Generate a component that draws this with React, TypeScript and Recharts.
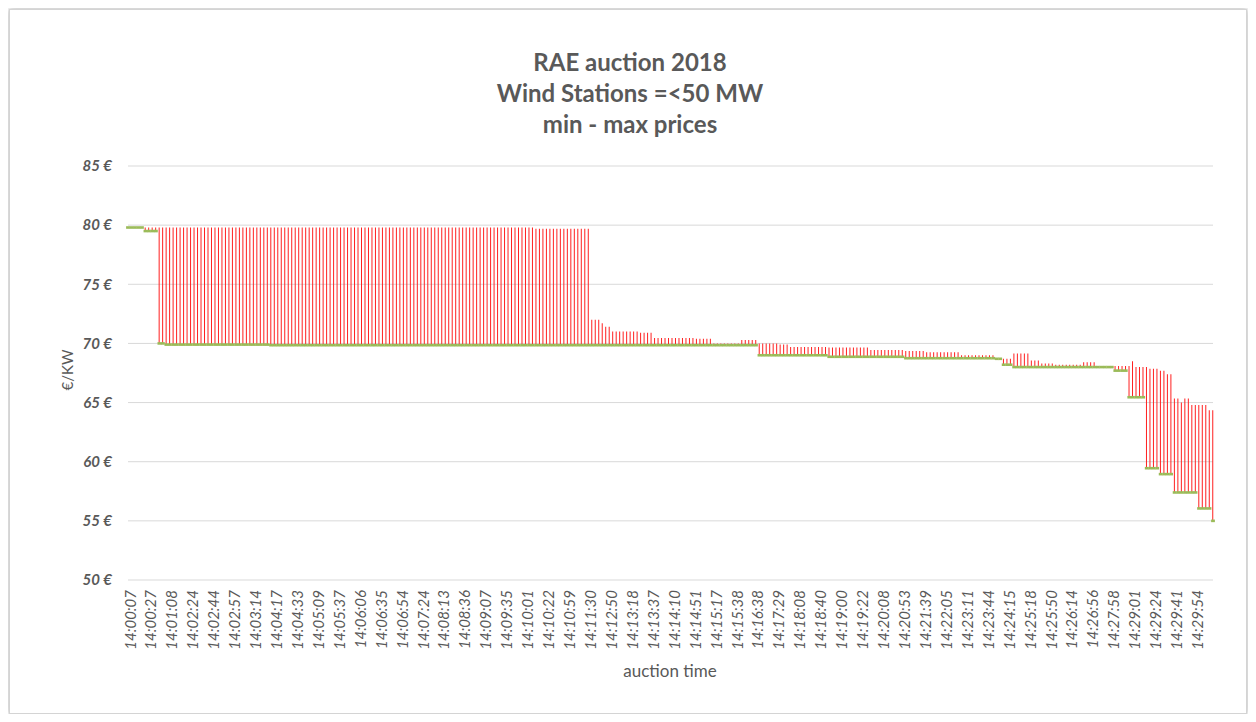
import { ComposedChart, Bar, Line, XAxis, YAxis, CartesianGrid } from 'recharts'

// every 6th bid carries a time label on the axis
const LABEL_STEP = 6

const timeLabels = [
  '14:00:07', '14:00:27', '14:01:08', '14:02:24', '14:02:44', '14:02:57', '14:03:14', '14:04:17',
  '14:04:33', '14:05:09', '14:05:37', '14:06:06', '14:06:35', '14:06:54', '14:07:24', '14:08:13',
  '14:08:36', '14:09:07', '14:09:35', '14:10:01', '14:10:22', '14:10:59', '14:11:30', '14:12:50',
  '14:13:18', '14:13:37', '14:14:10', '14:14:51', '14:15:17', '14:15:38', '14:16:38', '14:17:29',
  '14:18:08', '14:18:40', '14:19:00', '14:19:22', '14:20:08', '14:20:53', '14:21:39', '14:22:05',
  '14:23:11', '14:23:44', '14:24:15', '14:25:18', '14:25:50', '14:26:14', '14:26:56', '14:27:58',
  '14:29:01', '14:29:24', '14:29:41', '14:29:54',
]

const priceTicks = [50, 55, 60, 65, 70, 75, 80, 85]

// lowest bid per step (€/KW)
const minPrice = [
  79.8, 79.8, 79.8, 79.8, 79.8,
  79.5, 79.5, 79.5, 79.5,
  70.0, 70.0,
  69.9, 69.9, 69.9, 69.9, 69.9, 69.9, 69.9, 69.9, 69.9, 69.9,
  69.9, 69.9, 69.9, 69.9, 69.9, 69.9, 69.9, 69.9, 69.9, 69.9,
  69.9, 69.9, 69.9, 69.9, 69.9, 69.9, 69.9, 69.9, 69.9, 69.9,
  69.85, 69.85, 69.85, 69.85, 69.85, 69.85, 69.85, 69.85, 69.85, 69.85,
  69.85, 69.85, 69.85, 69.85, 69.85, 69.85, 69.85, 69.85, 69.85, 69.85,
  69.85, 69.85, 69.85, 69.85, 69.85, 69.85, 69.85, 69.85, 69.85, 69.85,
  69.85, 69.85, 69.85, 69.85, 69.85, 69.85, 69.85, 69.85, 69.85, 69.85,
  69.85, 69.85, 69.85, 69.85, 69.85, 69.85, 69.85, 69.85, 69.85, 69.85,
  69.85, 69.85, 69.85, 69.85, 69.85, 69.85, 69.85, 69.85, 69.85, 69.85,
  69.85, 69.85, 69.85, 69.85, 69.85, 69.85, 69.85, 69.85, 69.85, 69.85,
  69.85, 69.85, 69.85, 69.85, 69.85, 69.85, 69.85, 69.85, 69.85, 69.85,
  69.85, 69.85, 69.85, 69.85, 69.85, 69.85, 69.85, 69.85, 69.85, 69.85,
  69.85, 69.85, 69.85, 69.85, 69.85, 69.85, 69.85, 69.85, 69.85, 69.85,
  69.85, 69.85, 69.85, 69.85, 69.85, 69.85, 69.85, 69.85, 69.85, 69.85,
  69.85, 69.85, 69.85, 69.85, 69.85, 69.85, 69.85, 69.85, 69.85, 69.85,
  69.85, 69.85, 69.85, 69.85, 69.85, 69.85, 69.85, 69.85, 69.85, 69.85,
  69.85, 69.85, 69.85, 69.85, 69.85, 69.85, 69.85, 69.85, 69.85, 69.85,
  69.0, 69.0, 69.0, 69.0, 69.0, 69.0, 69.0, 69.0, 69.0, 69.0,
  69.0, 69.0, 69.0, 69.0, 69.0, 69.0, 69.0, 69.0, 69.0, 69.0,
  68.87, 68.87, 68.87, 68.87, 68.87, 68.87, 68.87, 68.87, 68.87, 68.87,
  68.87, 68.87, 68.87, 68.87, 68.87, 68.87, 68.87, 68.87, 68.87, 68.87,
  68.87, 68.87,
  68.75, 68.75, 68.75, 68.75, 68.75, 68.75, 68.75, 68.75, 68.75, 68.75,
  68.75, 68.75, 68.75, 68.75, 68.75, 68.75, 68.75, 68.75, 68.75, 68.75,
  68.75, 68.75, 68.75, 68.75, 68.75, 68.75,
  68.7, 68.7,
  68.2, 68.2, 68.2,
  68.0, 68.0, 68.0, 68.0, 68.0, 68.0, 68.0, 68.0, 68.0, 68.0,
  68.0, 68.0, 68.0, 68.0, 68.0, 68.0, 68.0, 68.0, 68.0, 68.0,
  68.0, 68.0, 68.0, 68.0, 68.0, 68.0, 68.0, 68.0, 68.0,
  67.7, 67.7, 67.7, 67.7,
  65.45, 65.45, 65.45, 65.45, 65.45,
  59.45, 59.45, 59.45, 59.45,
  58.95, 58.95, 58.95, 58.95,
  57.4, 57.4, 57.4, 57.4, 57.4, 57.4, 57.4,
  56.05, 56.05, 56.05, 56.05,
  55.0,
]

// highest bid per step (€/KW)
const maxPrice = [
  79.8, 79.8, 79.8, 79.8, 79.8, 79.8, 79.8, 79.8, 79.8, 79.8,
  79.8, 79.8, 79.8, 79.8, 79.8, 79.8, 79.8, 79.8, 79.8, 79.8,
  79.8, 79.8, 79.8, 79.8, 79.8, 79.8, 79.8, 79.8, 79.8, 79.8,
  79.8, 79.8, 79.8, 79.8, 79.8, 79.8, 79.8, 79.8, 79.8, 79.8,
  79.8, 79.8, 79.8, 79.8, 79.8, 79.8, 79.8, 79.8, 79.8, 79.8,
  79.8, 79.8, 79.8, 79.8, 79.8, 79.8, 79.8, 79.8, 79.8, 79.8,
  79.8, 79.8, 79.8, 79.8, 79.8, 79.8, 79.8, 79.8, 79.8, 79.8,
  79.8, 79.8, 79.8, 79.8, 79.8, 79.8, 79.8, 79.8, 79.8, 79.8,
  79.8, 79.8, 79.8, 79.8, 79.8, 79.8, 79.8, 79.8, 79.8, 79.8,
  79.8, 79.8, 79.8, 79.8, 79.8, 79.8, 79.8, 79.8, 79.8, 79.8,
  79.8, 79.8, 79.8, 79.8, 79.8, 79.8, 79.8, 79.8, 79.8, 79.8,
  79.8, 79.8, 79.8, 79.8, 79.8, 79.8, 79.8,
  79.7, 79.7, 79.7, 79.7, 79.7, 79.7, 79.7, 79.7, 79.7, 79.7,
  79.7, 79.7, 79.7, 79.7, 79.7, 79.7,
  72.0, 72.0, 72.0,
  71.7,
  71.4, 71.4,
  71.0, 71.0, 71.0, 71.0, 71.0, 71.0, 71.0, 71.0,
  70.9, 70.9, 70.9, 70.9,
  70.45, 70.45, 70.45, 70.45, 70.45, 70.45, 70.45, 70.45, 70.45, 70.45,
  70.45, 70.45,
  70.4, 70.4, 70.4, 70.4, 70.4,
  70.0, 70.0, 70.0, 70.0, 70.0, 70.0, 70.0, 70.0,
  70.3, 70.3, 70.3, 70.3, 70.3,
  70.0, 70.0, 70.0, 70.0, 70.0, 70.0,
  69.9, 69.9, 69.9,
  69.7, 69.7, 69.7, 69.7, 69.7, 69.7, 69.7, 69.7, 69.7, 69.7,
  69.7,
  69.65, 69.65, 69.65, 69.65, 69.65, 69.65, 69.65, 69.65, 69.65, 69.65,
  69.65, 69.65,
  69.45, 69.45, 69.45, 69.45, 69.45, 69.45, 69.45, 69.45, 69.45, 69.45,
  69.35, 69.35, 69.35, 69.35, 69.35, 69.35,
  69.25, 69.25, 69.25, 69.25, 69.25, 69.25, 69.25, 69.25, 69.25, 69.25,
  69.0, 69.0, 69.0, 69.0, 69.0, 69.0, 69.0, 69.0, 69.0, 69.0,
  68.7, 68.7, 68.7, 68.7, 68.7,
  69.15, 69.15, 69.15, 69.15, 69.15,
  68.55, 68.55, 68.55,
  68.3, 68.3, 68.3, 68.3,
  68.2, 68.2, 68.2, 68.2, 68.2, 68.2, 68.2, 68.2,
  68.4, 68.4, 68.4, 68.4,
  68.1, 68.1, 68.1, 68.1, 68.1, 68.1, 68.1, 68.1, 68.1, 68.1,
  68.5,
  68.0, 68.0, 68.0, 68.0,
  67.85, 67.85, 67.85,
  67.7, 67.7,
  67.4, 67.4,
  65.35, 65.35,
  65.0,
  65.35, 65.35,
  64.8, 64.8, 64.8, 64.8, 64.8,
  64.35, 64.35,
]

const data = minPrice.map((min, i) => ({ bid: i, min, max: maxPrice[i] }))
const xTicks = timeLabels.map((_, k) => k * LABEL_STEP)

const FONT = 'Lato, "Open Sans", sans-serif'
const GREY = '#595959'
const GREEN = '#9bbb59'

function TimeTick({ x, y, payload }: any) {
  const label = timeLabels[Math.round(payload.value / LABEL_STEP)]
  return (
    <text
      x={x}
      y={y}
      transform={`rotate(-90 ${x} ${y})`}
      textAnchor="end"
      dy="0.5em"
      fontSize={15}
      fontStyle="italic"
      fontFamily={FONT}
      fill={GREY}
    >
      {label}
    </text>
  )
}

// the min series is drawn as short flat marks, one per bid, like Excel's dash markers
function MinDash(props: any) {
  const { cx, cy, index } = props
  if (cx == null || cy == null) return null
  return (
    <line
      key={`dash-${index}`}
      x1={cx - 1.9}
      x2={cx + 1.9}
      y1={cy}
      y2={cy}
      stroke={GREEN}
      strokeWidth={2.6}
    />
  )
}

export default function App() {
  return (
    <div
      style={{
        position: 'relative',
        width: 1236,
        height: 703,
        marginLeft: 1,
        marginTop: 1,
        border: '1px solid #d4d4d4',
        boxShadow: '0 0 6px rgba(0,0,0,0.35)',
        background: '#fff',
        fontFamily: FONT,
        color: GREY,
      }}
    >
      <div
        style={{
          position: 'absolute',
          top: 36,
          left: 0,
          width: 1240,
          textAlign: 'center',
          fontSize: 24,
          fontWeight: 700,
          lineHeight: '31px',
        }}
      >
        <div>RAE auction 2018</div>
        <div>Wind Stations =&lt;50 MW</div>
        <div>min - max prices</div>
      </div>

      <div
        style={{
          position: 'absolute',
          left: 57,
          top: 360,
          transform: 'translate(-50%, -50%) rotate(-90deg)',
          fontSize: 15,
          whiteSpace: 'nowrap',
        }}
      >
        €/KW
      </div>

      <div
        style={{
          position: 'absolute',
          left: 560,
          width: 200,
          top: 651,
          lineHeight: '20px',
          textAlign: 'center',
          fontSize: 17,
        }}
      >
        auction time
      </div>

      <ComposedChart
        width={1236}
        height={703}
        data={data}
        margin={{ top: 156, right: 33, bottom: 43, left: 18 }}
      >
        <CartesianGrid vertical={false} stroke="#d9d9d9" />
        <XAxis
          dataKey="bid"
          type="number"
          domain={[0, data.length - 1]}
          ticks={xTicks}
          interval={0}
          tick={<TimeTick />}
          tickLine={false}
          axisLine={false}
          tickSize={6}
          tickMargin={4}
          height={90}
        />
        <YAxis
          domain={[50, 85]}
          ticks={priceTicks}
          interval={0}
          width={100}
          tickLine={false}
          axisLine={false}
          tickSize={6}
          tickMargin={10}
          tickFormatter={(v) => `${v} €`}
          tick={{ fontSize: 15, fontStyle: 'italic', fontWeight: 700, fill: GREY, fontFamily: FONT }}
        />
        <Bar
          dataKey={(d: any) => [d.min, d.max]}
          fill="#ff2020"
          barSize={1}
          isAnimationActive={false}
        />
        <Line
          type="linear"
          dataKey="min"
          stroke="none"
          dot={MinDash}
          activeDot={false}
          isAnimationActive={false}
        />
      </ComposedChart>
    </div>
  )
}
